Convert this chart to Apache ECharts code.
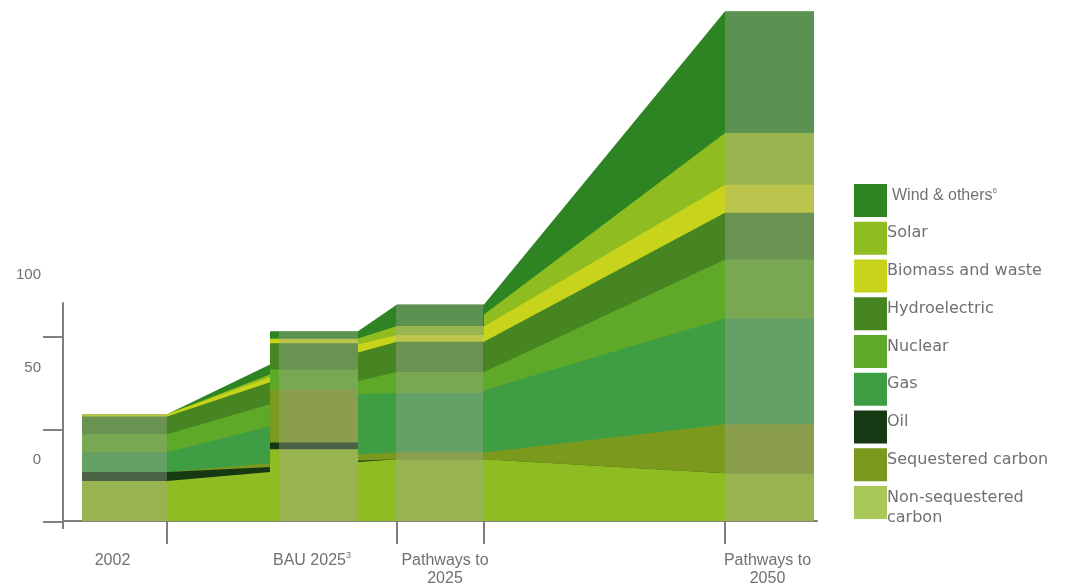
<!DOCTYPE html>
<html>
<head>
<meta charset="utf-8">
<title>Energy pathways</title>
<script src="https://cdn.jsdelivr.net/npm/echarts@6/dist/echarts.min.js"></script>
<style>
  html, body { margin: 0; padding: 0; background: #fff; }
  #chart { width: 1073px; height: 588px; }
</style>
</head>
<body>
<div id="chart"></div>
<script>
// stages along the x axis: the four bars plus the edges where the ribbons jump
const stages = ['2002', 'BAU in', 'BAU 2025', 'BAU out', 'Pathways 2025', 'Pathways 2025 out', 'Pathways 2050'];

// values per stage, bottom layer first
const nonSequestered = [21.6, 26.6, 38.9, 31.9, 33.5, 33.5, 25.9];
const oil            = [4.9, 2.7, 3.6, 0.7, 0, 0, 0];
const sequestered    = [0, 2.0, 28.4, 3.6, 3.6, 4.3, 26.5];
const gas            = [10.8, 20.0, 0, 32.4, 32.2, 33.0, 57.3];
const nuclear        = [9.7, 11.9, 11.2, 7.2, 11.4, 10.3, 31.9];
const hydro          = [9.6, 11.9, 14.1, 15.5, 16.4, 16.2, 25.4];
const biomass        = [1.2, 2.7, 2.2, 4.3, 3.6, 8.1, 15.1];
const solar          = [0, 1.6, 0.5, 2.7, 4.9, 6.5, 28.1];
const wind           = [0, 5.4, 3.9, 5.4, 11.7, 5.4, 65.9];

const categoryLabels = ['2002', 'BAU 2025', 'Pathways to\n2025', 'Pathways to\n2050'];
const yTicks = [0, 50, 100];
const yTickLabels = ['0', '50', '100'];
const legendOrder = ['Wind & others', 'Solar', 'Biomass and waste', 'Hydroelectric', 'Nuclear',
                     'Gas', 'Oil', 'Sequestered carbon', 'Non-sequestered carbon'];

// layout on the x axis (axis units)
const stagePoints = [[19, 0], [104, 0], [207, 1], [207, 2], [295, 2], [295, 3],
                     [334, 4], [421, 4], [421, 5], [662, 6], [751, 6]];
const barSpans = [[19, 104, 0], [216, 295, 2], [333, 420, 4], [662, 751, 6]];
const labelPos = [49.5, 249, 382, 704.5];
const tickPos = [104, 334, 421, 662];

const layers = [
  { name: 'Non-sequestered carbon', values: nonSequestered, color: '#8fbc22', legendColor: '#a8c85a' },
  { name: 'Oil', values: oil, color: '#163913' },
  { name: 'Sequestered carbon', values: sequestered, color: '#7a991d' },
  { name: 'Gas', values: gas, color: '#3f9e44' },
  { name: 'Nuclear', values: nuclear, color: '#5ea927' },
  { name: 'Hydroelectric', values: hydro, color: '#478523' },
  { name: 'Biomass and waste', values: biomass, color: '#c7d41b' },
  { name: 'Solar', values: solar, color: '#8fbd21' },
  { name: 'Wind & others', values: wind, color: '#2e8423' }
];

// cumulative tops, drawn from the top layer down so lower layers cover the rest
const cum = [];
layers.forEach((l, i) => {
  cum.push(l.values.map((v, s) => v + (i ? cum[i - 1][s] : 0)));
});
const totals = cum[cum.length - 1];

const axisGrey = '#808080';
const textGrey = '#707070';

const series = [];
for (let i = layers.length - 1; i >= 0; i--) {
  series.push({
    name: layers[i].name,
    type: 'line',
    xAxisIndex: 0,
    yAxisIndex: 0,
    symbol: 'none',
    silent: true,
    color: layers[i].color,
    lineStyle: { width: 0, opacity: 0 },
    areaStyle: { color: layers[i].color, opacity: 1 },
    data: stagePoints.map(([x, s]) => [x, cum[i][s]]),
    z: 2
  });
}
// muted look of the bars
series.push({
  type: 'custom',
  xAxisIndex: 0,
  yAxisIndex: 0,
  silent: true,
  z: 5,
  encode: { x: [0, 1], y: 2 },
  data: barSpans.map(([a, b, s]) => [a, b, totals[s]]),
  renderItem: (params, api) => {
    const p0 = api.coord([api.value(0), 0]);
    const p1 = api.coord([api.value(1), api.value(2)]);
    return {
      type: 'rect',
      shape: { x: p0[0], y: p1[1], width: p1[0] - p0[0], height: p0[1] - p1[1] },
      style: { fill: 'rgba(168,168,160,0.37)' }
    };
  }
});

const layerByName = {};
layers.forEach((l) => { layerByName[l.name] = l; });

const chart = echarts.init(document.getElementById('chart'));
chart.setOption({
  animation: false,
  grid: [
    { left: 63, right: 256, top: 4, bottom: 66 },
    { left: 63, right: 256, top: 303, bottom: 66 },
    // the printed tick labels sit well above their ticks
    { left: 63, right: 256, top: 241, bottom: 128 }
  ],
  xAxis: [
    {
      gridIndex: 0, type: 'value', min: 0, max: 754, position: 'bottom',
      axisLine: { lineStyle: { color: axisGrey, width: 2 } },
      axisTick: { customValues: tickPos, length: 23, lineStyle: { color: axisGrey, width: 2 } },
      axisLabel: { show: false },
      splitLine: { show: false }
    },
    {
      gridIndex: 0, type: 'value', min: 0, max: 754, position: 'bottom',
      axisLine: { show: false },
      axisTick: { customValues: [0], length: 8, lineStyle: { color: axisGrey, width: 2 } },
      axisLabel: { show: false },
      splitLine: { show: false }
    },
    {
      gridIndex: 0, type: 'value', min: 0, max: 754, position: 'bottom',
      axisLine: { show: false },
      axisTick: { show: false },
      splitLine: { show: false },
      axisLabel: {
        customValues: labelPos,
        margin: 31,
        fontFamily: 'Liberation Sans',
        fontSize: 16,
        lineHeight: 18,
        color: textGrey,
        formatter: (v) => {
          const t = categoryLabels[labelPos.indexOf(v)];
          return t === 'BAU 2025' ? '{a|BAU 2025}{s|3}' : t;
        },
        rich: {
          a: { fontFamily: 'Liberation Sans', fontSize: 16, color: textGrey },
          s: { fontFamily: 'Liberation Sans', fontSize: 9, color: textGrey, padding: [0, 0, 10, 0] }
        }
      }
    },
    { gridIndex: 1, type: 'value', min: 0, max: 754, show: false },
    { gridIndex: 2, type: 'value', min: 0, max: 754, show: false }
  ],
  yAxis: [
    { gridIndex: 0, type: 'value', min: 0, max: 280, show: false },
    {
      gridIndex: 1, type: 'value', min: 0, max: 118.4, interval: 50,
      axisLine: { show: true, lineStyle: { color: axisGrey, width: 2 } },
      axisTick: { show: true, customValues: yTicks, length: 20, lineStyle: { color: axisGrey, width: 2 } },
      splitLine: { show: false },
      axisLabel: { show: false }
    },
    {
      gridIndex: 2, type: 'value', min: 0, max: 118.4, interval: 50,
      axisLine: { show: false },
      axisTick: { show: false },
      splitLine: { show: false },
      axisLabel: {
        customValues: yTicks,
        margin: 22,
        fontFamily: 'Liberation Sans',
        fontSize: 15,
        color: textGrey,
        formatter: (v) => yTickLabels[yTicks.indexOf(v)]
      }
    }
  ],
  legend: {
    orient: 'vertical',
    left: 854,
    top: 184,
    padding: 0,
    itemWidth: 33,
    itemHeight: 33,
    itemGap: 4.75,
    icon: 'rect',
    selectedMode: false,
    textStyle: {
      fontFamily: 'DejaVu Sans',
      fontSize: 16,
      color: textGrey,
      padding: [0, 0, 10, -5],
      rich: {
        w: { fontFamily: 'Liberation Sans', fontSize: 16, color: textGrey, padding: [0, 0, 0, 5] },
        s: { fontFamily: 'Liberation Sans', fontSize: 8, color: textGrey, padding: [0, 0, 10, 0] }
      }
    },
    formatter: (name) => {
      if (name === 'Wind & others') return '{w|Wind & others}{s|6}';
      if (name === 'Non-sequestered carbon') return 'Non-sequestered\ncarbon';
      return name;
    },
    data: legendOrder.map((name) => {
      const l = layerByName[name];
      const item = { name: name, itemStyle: { color: l.legendColor || l.color, borderWidth: 0 } };
      if (name === 'Non-sequestered carbon') {
        item.textStyle = { lineHeight: 20, padding: [0, 0, -10, -5] };
      }
      return item;
    })
  },
  series: series
});
</script>
</body>
</html>
